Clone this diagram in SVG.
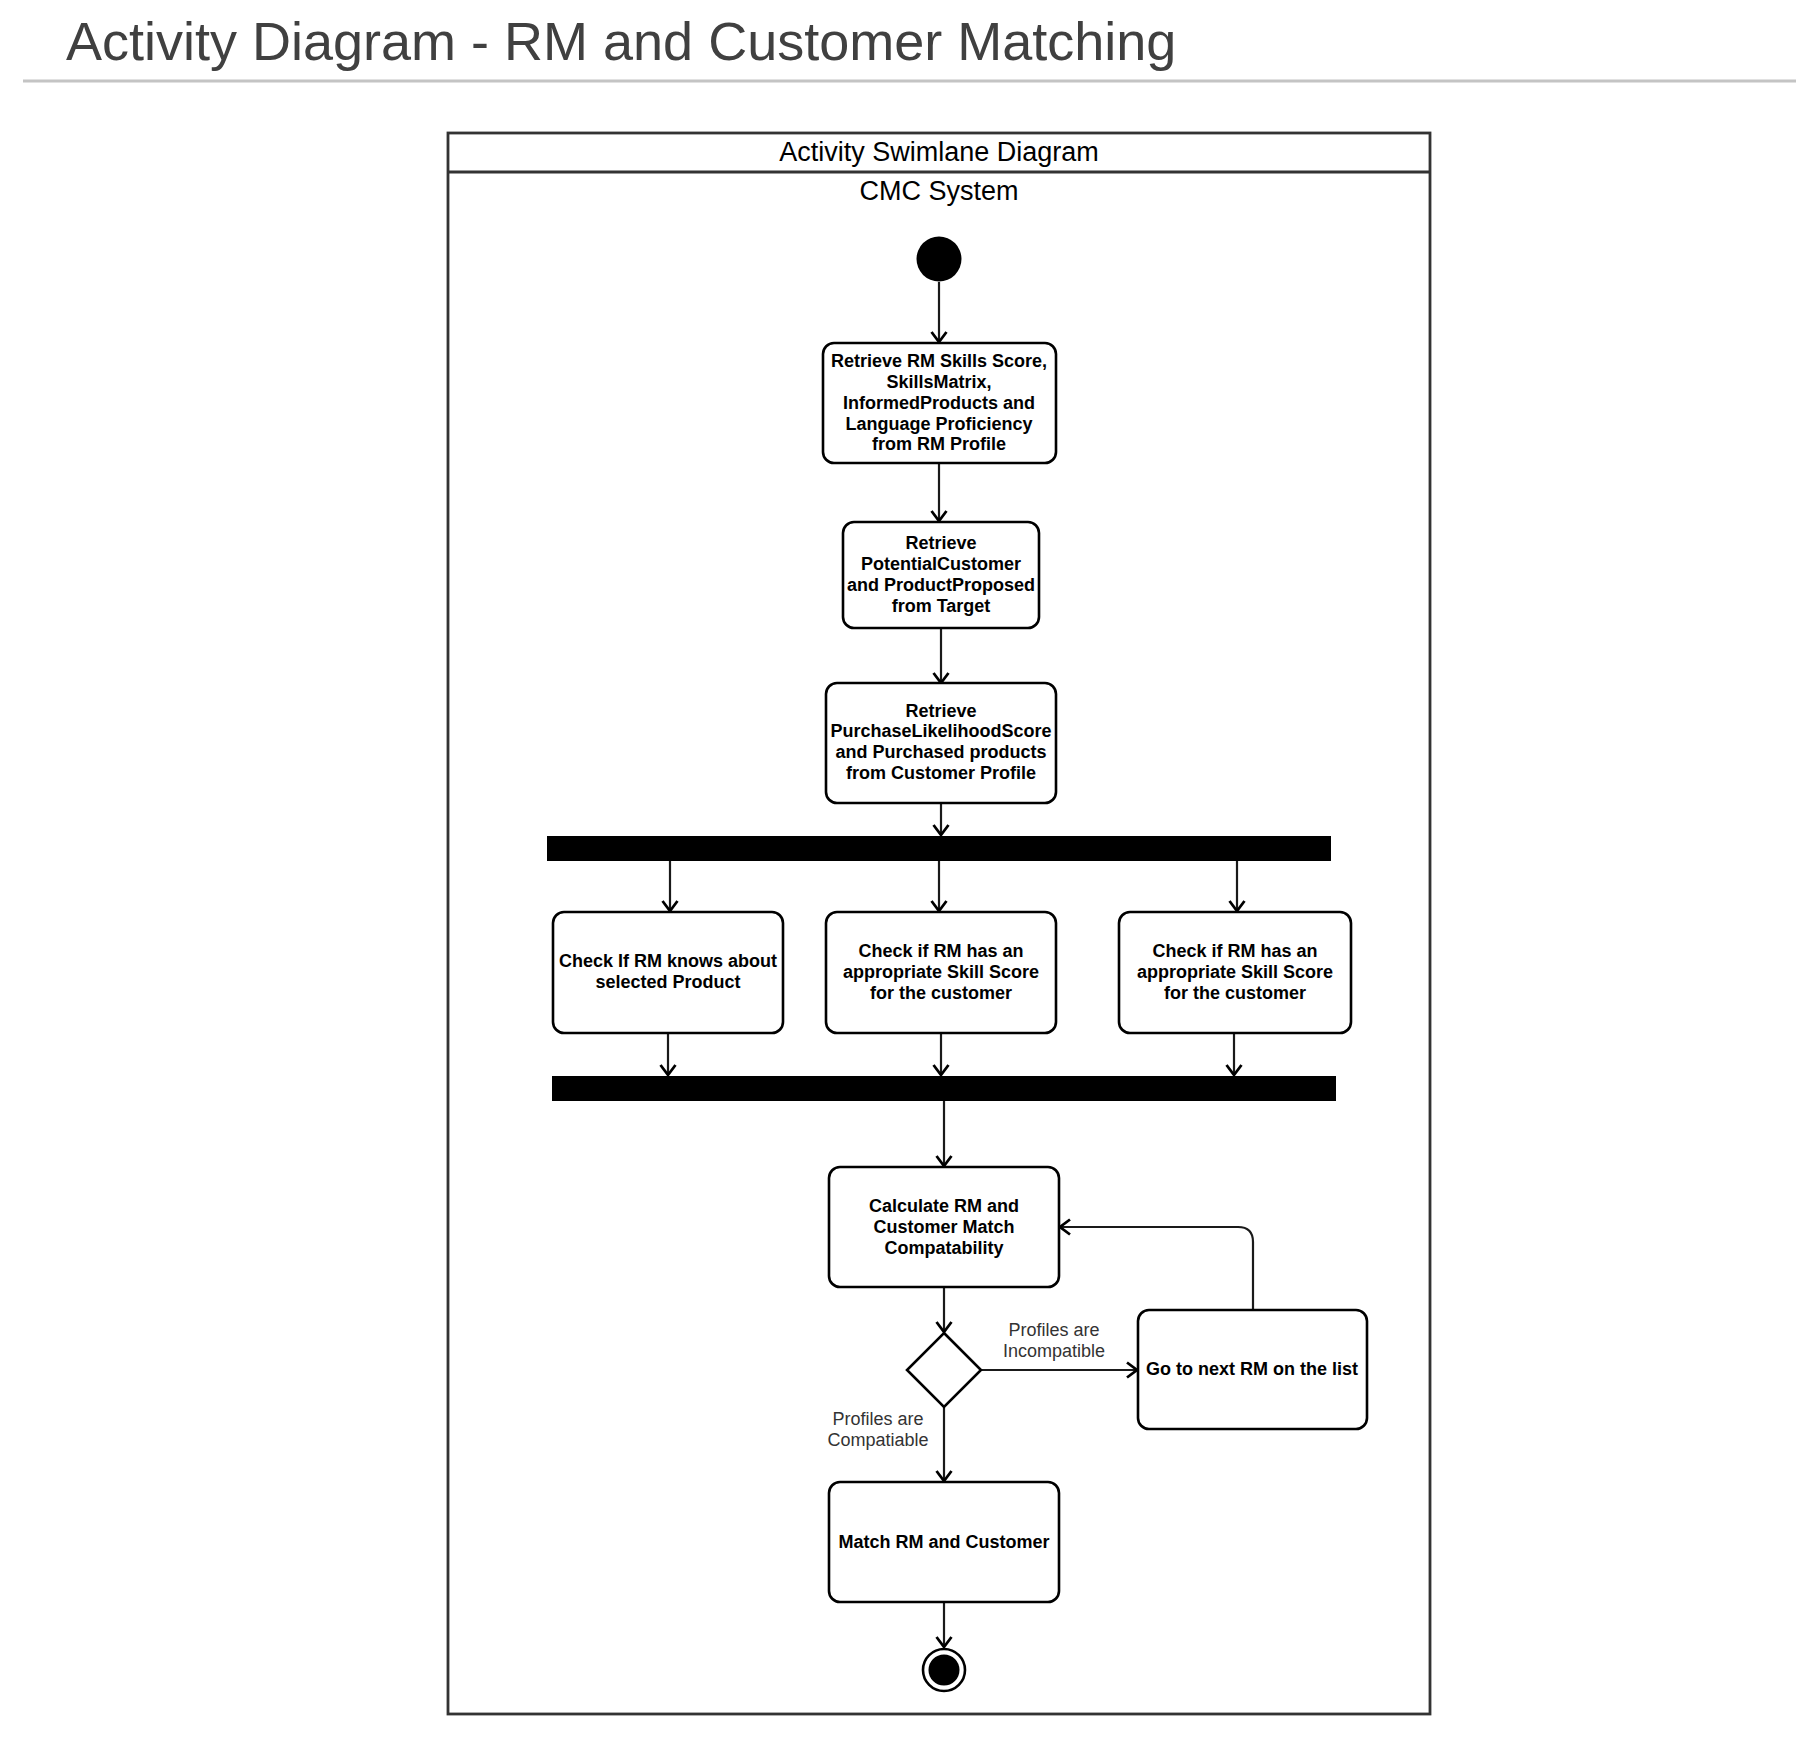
<svg xmlns="http://www.w3.org/2000/svg" width="1819" height="1760" viewBox="0 0 1819 1760">
<style>
text{font-family:"Liberation Sans",Arial,sans-serif;}
.title{font-size:54px;fill:#404040;}
.lane{font-size:27px;fill:#000;text-anchor:middle;}
.box{fill:#fff;stroke:#000;stroke-width:2.6;}
.bt{font-size:18px;font-weight:bold;fill:#000;text-anchor:middle;}
.lbl{font-size:18px;fill:#333;text-anchor:middle;}
.c{fill:none;stroke:#1a1a1a;stroke-width:2.2;marker-end:url(#arr);}
</style>
<defs>
<marker id="arr" markerWidth="20" markerHeight="20" refX="11" refY="10" orient="auto" markerUnits="userSpaceOnUse">
<path d="M1,2.5 L11,10 L1,17.5" fill="none" stroke="#000" stroke-width="2.8"/>
</marker>
</defs>
<rect width="1819" height="1760" fill="#fff"/>
<text class="title" x="66" y="60">Activity Diagram - RM and Customer Matching</text>
<line x1="23" y1="81" x2="1796" y2="81" stroke="#c4c4c4" stroke-width="3"/>
<g id="swimlane">
<rect x="448" y="133" width="982" height="1581" fill="#fff" stroke="#333" stroke-width="2.8"/>
<line x1="448" y1="172" x2="1430" y2="172" stroke="#333" stroke-width="2.8"/>
<text class="lane" x="939" y="161">Activity Swimlane Diagram</text>
<text class="lane" x="939" y="200">CMC System</text>
</g>
<g id="connectors">
<path class="c" d="M939,282 V342"/>
<path class="c" d="M939,463 V521"/>
<path class="c" d="M941,628 V683"/>
<path class="c" d="M941,803 V835"/>
<path class="c" d="M670,861 V911"/>
<path class="c" d="M939,861 V911"/>
<path class="c" d="M1237,861 V911"/>
<path class="c" d="M668,1033 V1075"/>
<path class="c" d="M941,1033 V1075"/>
<path class="c" d="M1234,1033 V1075"/>
<path class="c" d="M944,1101 V1166"/>
<path class="c" d="M944,1287 V1332"/>
<path class="c" d="M982,1370 H1137"/>
<path class="c" d="M1253,1310 V1242 Q1253,1227 1238,1227 H1060"/>
<path class="c" d="M944,1407 V1481"/>
<path class="c" d="M944,1602 V1647"/>
<text class="lbl" x="1054" y="1336">Profiles are</text>
<text class="lbl" x="1054" y="1357">Incompatible</text>
<text class="lbl" x="878" y="1425">Profiles are</text>
<text class="lbl" x="878" y="1446">Compatiable</text>
</g>
<g id="start"><circle cx="939" cy="259" r="22.5" fill="#000"/></g>
<g id="retrieveRM">
<rect class="box" x="823" y="343" width="233" height="120" rx="11"/>
<text class="bt" x="939" y="367">Retrieve RM Skills Score,</text>
<text class="bt" x="939" y="388">SkillsMatrix,</text>
<text class="bt" x="939" y="409">InformedProducts and</text>
<text class="bt" x="939" y="430">Language Proficiency</text>
<text class="bt" x="939" y="450">from RM Profile</text>
</g>
<g id="retrieveTarget">
<rect class="box" x="843" y="522" width="196" height="106" rx="11"/>
<text class="bt" x="941" y="549">Retrieve</text>
<text class="bt" x="941" y="570">PotentialCustomer</text>
<text class="bt" x="941" y="591">and ProductProposed</text>
<text class="bt" x="941" y="612">from Target</text>
</g>
<g id="retrieveCustomer">
<rect class="box" x="826" y="683" width="230" height="120" rx="11"/>
<text class="bt" x="941" y="717">Retrieve</text>
<text class="bt" x="941" y="737">PurchaseLikelihoodScore</text>
<text class="bt" x="941" y="758">and Purchased products</text>
<text class="bt" x="941" y="779">from Customer Profile</text>
</g>
<g id="fork"><rect x="547" y="836" width="784" height="25" fill="#000"/></g>
<g id="checkProduct">
<rect class="box" x="553" y="912" width="230" height="121" rx="11"/>
<text class="bt" x="668" y="967">Check If RM knows about</text>
<text class="bt" x="668" y="988">selected Product</text>
</g>
<g id="checkSkill1">
<rect class="box" x="826" y="912" width="230" height="121" rx="11"/>
<text class="bt" x="941" y="957">Check if RM has an</text>
<text class="bt" x="941" y="978">appropriate Skill Score</text>
<text class="bt" x="941" y="999">for the customer</text>
</g>
<g id="checkSkill2">
<rect class="box" x="1119" y="912" width="232" height="121" rx="11"/>
<text class="bt" x="1235" y="957">Check if RM has an</text>
<text class="bt" x="1235" y="978">appropriate Skill Score</text>
<text class="bt" x="1235" y="999">for the customer</text>
</g>
<g id="join"><rect x="552" y="1076" width="784" height="25" fill="#000"/></g>
<g id="calculate">
<rect class="box" x="829" y="1167" width="230" height="120" rx="11"/>
<text class="bt" x="944" y="1212">Calculate RM and</text>
<text class="bt" x="944" y="1233">Customer Match</text>
<text class="bt" x="944" y="1254">Compatability</text>
</g>
<g id="decision"><path d="M944,1333 L981,1370 L944,1407 L907,1370 Z" fill="#fff" stroke="#000" stroke-width="2.6"/></g>
<g id="nextRM">
<rect class="box" x="1138" y="1310" width="229" height="119" rx="11"/>
<text class="bt" x="1252" y="1375">Go to next RM on the list</text>
</g>
<g id="match">
<rect class="box" x="829" y="1482" width="230" height="120" rx="11"/>
<text class="bt" x="944" y="1548">Match RM and Customer</text>
</g>
<g id="end">
<circle cx="944" cy="1670" r="21" fill="#fff" stroke="#000" stroke-width="2.6"/>
<circle cx="944" cy="1670" r="15.5" fill="#000"/>
</g>
</svg>
